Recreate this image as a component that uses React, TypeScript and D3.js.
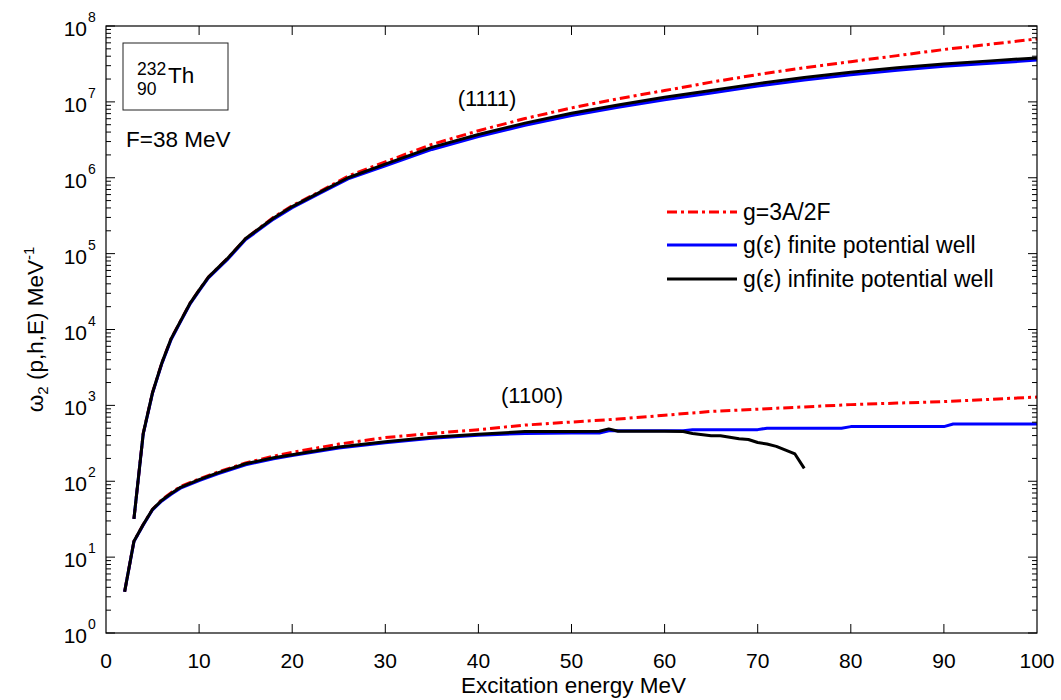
import React from 'react';
import * as d3 from 'd3';

// ---- Data ----
const E1111 = [3, 4, 5, 6, 7, 8, 9, 10, 11, 13, 15, 18, 20, 23, 26, 30, 35, 40, 45, 50, 55, 60, 65, 70, 75, 80, 85, 90, 95, 100];
const red1111 = [32, 427, 1480, 3630, 7590, 12900, 21900, 33100, 49000, 85100, 158000, 302000, 427000, 661000, 1.05e6, 1.62e6, 2.75e6, 4.17e6, 6.03e6, 8.32e6, 1.1e7, 1.41e7, 1.82e7, 2.29e7, 2.82e7, 3.39e7, 4.07e7, 4.9e7, 5.75e7, 6.76e7];
const blue1111 = [32, 420, 1450, 3550, 7400, 12600, 21400, 32300, 47800, 82500, 153000, 285000, 402000, 625000, 965000, 1.44e6, 2.36e6, 3.48e6, 4.9e6, 6.6e6, 8.5e6, 1.07e7, 1.31e7, 1.62e7, 1.94e7, 2.28e7, 2.62e7, 2.94e7, 3.23e7, 3.55e7];
const black1111 = [32, 427, 1480, 3630, 7590, 12900, 21900, 33100, 49000, 85100, 158000, 295000, 417000, 646000, 1.0e6, 1.51e6, 2.51e6, 3.72e6, 5.25e6, 7.08e6, 9.12e6, 1.15e7, 1.41e7, 1.74e7, 2.09e7, 2.45e7, 2.82e7, 3.16e7, 3.47e7, 3.8e7];

const Ered1100 = [2, 3, 4, 5, 6, 7, 8, 10, 12, 15, 18, 20, 25, 30, 35, 40, 45, 50, 55, 60, 65, 70, 75, 80, 85, 90, 95, 100];
const red1100 = [3.5, 16.2, 26.9, 42.7, 57.5, 70.8, 85.1, 107, 132, 174, 214, 240, 309, 376, 427, 479, 550, 603, 661, 741, 832, 891, 955, 1023, 1072, 1122, 1202, 1288];

const Eblue1100 = [2, 3, 4, 5, 6, 7, 8, 10, 12, 15, 18, 20, 25, 30, 35, 40, 45, 50, 53, 54, 62, 63, 70, 71, 79, 80, 90, 91, 100];
const blue1100 = [3.5, 16, 26.5, 42, 55, 67.5, 81, 102, 125, 165, 198, 218, 274, 322, 368, 405, 427, 432, 432, 462, 462, 479, 479, 501, 501, 525, 525, 569, 569];

const Eblack1100 = [2, 3, 4, 5, 6, 7, 8, 10, 12, 15, 18, 20, 25, 30, 35, 40, 45, 50, 53, 54, 55, 60, 62, 63, 65, 66, 68, 69, 70, 71, 72, 73, 74, 75];
const black1100 = [3.5, 16.2, 26.9, 42.7, 56.2, 69.2, 83.2, 105, 129, 170, 204, 224, 282, 331, 380, 417, 452, 452, 457, 490, 457, 457, 452, 427, 398, 398, 363, 355, 324, 309, 288, 257, 229, 148];

const xTicks = [0, 10, 20, 30, 40, 50, 60, 70, 80, 90, 100];
const yExponents = [0, 1, 2, 3, 4, 5, 6, 7, 8];

const legendLabels = ['g=3A/2F', 'g(\u03b5) finite potential well', 'g(\u03b5) infinite potential well'];
const seriesColors = ['#ff0000', '#0000ff', '#000000'];

const FONT = "'Liberation Sans', Arial, Helvetica, sans-serif";

export default function App() {
  const W = 1061, H = 700;
  const left = 106, right = 1037, top = 26, bottom = 633;
  const x = d3.scaleLinear().domain([0, 100]).range([left, right]);
  const y = d3.scaleLog().domain([1, 1e8]).range([bottom, top]);

  const mk = (es: number[], vs: number[]) => {
    const line = d3.line<number>().x((_, i) => x(es[i])).y((v) => y(v));
    return line(vs) || '';
  };

  const minorY: number[] = [];
  yExponents.slice(0, -1).forEach((e) => {
    for (let k = 2; k <= 9; k++) minorY.push(k * Math.pow(10, e));
  });

  const dash = '10,4,3,4';
  const sw = 3;
  const legendY = [212, 245, 279];

  return (
    <svg width={W} height={H} style={{ position: 'absolute', left: 0, top: 0, background: '#fff' }} fontFamily={FONT}>
      <rect x={0} y={0} width={W} height={H} fill="#fff" />

      {/* curves */}
      <g fill="none" strokeLinejoin="round">
        <path d={mk(E1111, red1111)} stroke={seriesColors[0]} strokeWidth={sw} strokeDasharray={dash} />
        <path d={mk(Ered1100, red1100)} stroke={seriesColors[0]} strokeWidth={sw} strokeDasharray={dash} />
        <path d={mk(E1111, blue1111)} stroke={seriesColors[1]} strokeWidth={sw} />
        <path d={mk(Eblue1100, blue1100)} stroke={seriesColors[1]} strokeWidth={sw} />
        <path d={mk(E1111, black1111)} stroke={seriesColors[2]} strokeWidth={sw} />
        <path d={mk(Eblack1100, black1100)} stroke={seriesColors[2]} strokeWidth={sw} />
      </g>

      {/* axes box */}
      <rect x={left} y={top} width={right - left} height={bottom - top} fill="none" stroke="#000" strokeWidth={1.2} />

      {/* x ticks */}
      {xTicks.map((t) => (
        <g key={'xt' + t}>
          {t > 0 && t < 100 && (
            <>
              <line x1={x(t)} x2={x(t)} y1={bottom} y2={bottom - 9} stroke="#000" />
              <line x1={x(t)} x2={x(t)} y1={top} y2={top + 9} stroke="#000" />
            </>
          )}
          <text x={x(t)} y={668} textAnchor="middle" fontSize={21} fill="#000">{t}</text>
        </g>
      ))}

      {/* y ticks */}
      {yExponents.map((e) => {
        const yy = y(Math.pow(10, e));
        return (
          <g key={'yt' + e}>
            <line x1={left} x2={left + 9} y1={yy} y2={yy} stroke="#000" />
            <line x1={right} x2={right - 9} y1={yy} y2={yy} stroke="#000" />
            <text x={87} y={yy + 10} textAnchor="end" fontSize={21} fill="#000">10</text>
            <text x={88} y={yy - 4} textAnchor="start" fontSize={14} fill="#000">{e}</text>
          </g>
        );
      })}
      {minorY.map((v, i) => (
        <g key={'ym' + i}>
          <line x1={left} x2={left + 5} y1={y(v)} y2={y(v)} stroke="#000" />
          <line x1={right} x2={right - 5} y1={y(v)} y2={y(v)} stroke="#000" />
        </g>
      ))}

      {/* axis labels */}
      <text x={(left + right) / 2 + 2} y={693} textAnchor="middle" fontSize={22.5} fill="#000">Excitation energy MeV</text>
      <text transform={`translate(43,${(top + bottom) / 2}) rotate(-90)`} textAnchor="middle" fontSize={22.5} fill="#000">
        <tspan>{'\u03c9'}</tspan>
        <tspan fontSize={15} dy={5}>2</tspan>
        <tspan dy={-5}>{' (p,h,E) MeV'}</tspan>
        <tspan fontSize={15} dy={-9}>-1</tspan>
      </text>

      {/* nucleus box */}
      <rect x={123} y={43} width={105} height={67} fill="none" stroke="#222" strokeWidth={1} />
      <text x={137} y={75} fontSize={17.5} fill="#000">232</text>
      <text x={137} y={95} fontSize={17.5} fill="#000">90</text>
      <text x={168} y={83} fontSize={22.5} fill="#000">Th</text>
      <text x={126} y={147} fontSize={22.5} fill="#000">F=38 MeV</text>

      {/* curve labels */}
      <text x={487} y={106} textAnchor="middle" fontSize={22} fill="#000">(1111)</text>
      <text x={532} y={403} textAnchor="middle" fontSize={22} fill="#000">(1100)</text>

      {/* legend */}
      {legendLabels.map((lab, i) => (
        <g key={'lg' + i}>
          <line x1={667} x2={737} y1={legendY[i]} y2={legendY[i]} stroke={seriesColors[i]} strokeWidth={sw}
            strokeDasharray={i === 0 ? dash : undefined} />
          <text x={743} y={legendY[i] + 8} fontSize={23} fill="#000">{lab}</text>
        </g>
      ))}
    </svg>
  );
}
